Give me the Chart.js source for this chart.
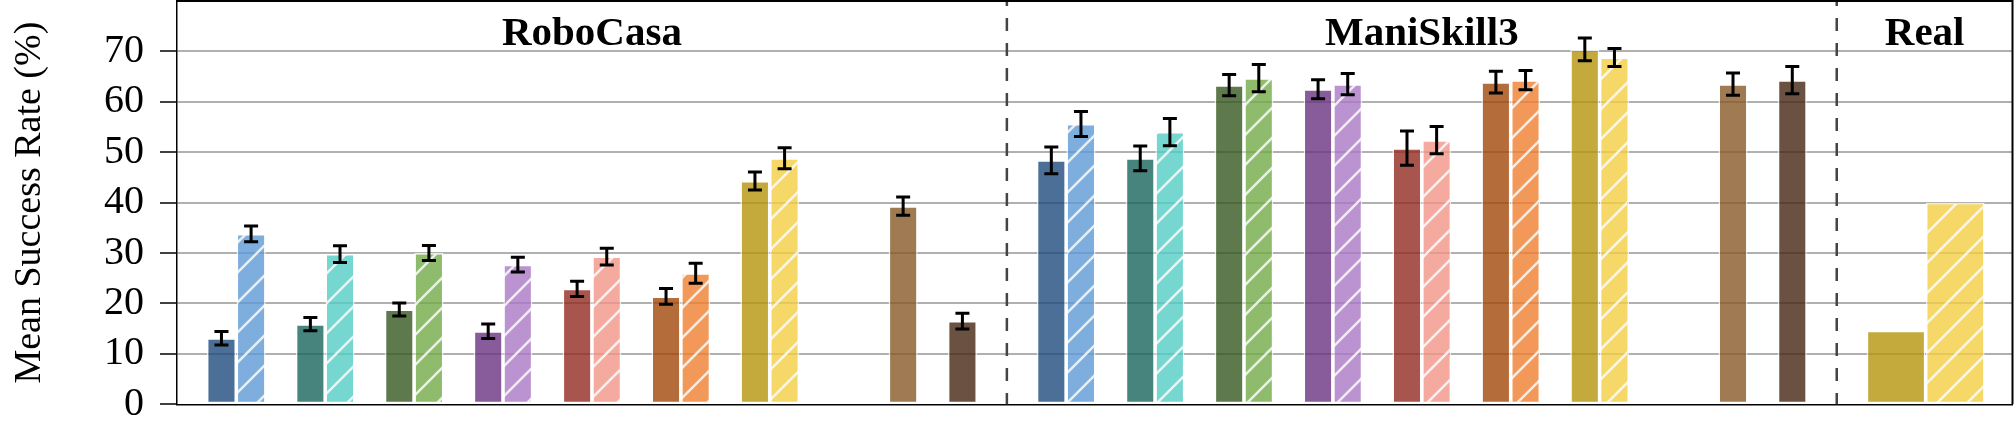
<!DOCTYPE html>
<html><head><meta charset="utf-8">
<script src="https://cdn.jsdelivr.net/npm/chart.js@4.4.1/dist/chart.umd.min.js"></script>
<style>html,body{margin:0;padding:0;background:#fff;}canvas{display:block;}</style>
</head><body>
<canvas id="c" width="2016" height="432"></canvas>
<script>
// ---------------- data ----------------
const sectionNames = ['RoboCasa', 'ManiSkill3', 'Real'];
const roboBase = [13.1, 15.9, 18.8, 14.5, 22.9, 21.4, 44.3];
const roboBaseErr = [1.35, 1.3, 1.3, 1.45, 1.5, 1.55, 1.8];
const roboPlus = [33.8, 29.8, 30.0, 27.7, 29.3, 26.0, 48.8];
const roboPlusErr = [1.55, 1.65, 1.5, 1.45, 1.65, 2.0, 2.1];
const roboSingle = [39.3, 16.5];
const roboSingleErr = [1.8, 1.55];
const maniBase = [48.4, 48.8, 63.3, 62.5, 50.8, 63.9, 70.4];
const maniBaseErr = [2.65, 2.45, 2.1, 1.9, 3.4, 2.15, 2.25];
const maniPlus = [55.6, 54.0, 64.7, 63.5, 52.4, 64.3, 68.8];
const maniPlusErr = [2.5, 2.7, 2.7, 2.1, 2.7, 1.9, 1.8];
const maniSingle = [63.5, 64.3];
const maniSingleErr = [2.2, 2.7];
const realValues = [14.6, 40.0];
const yTickValues = [0, 10, 20, 30, 40, 50, 60, 70];
const yTitle = 'Mean Success Rate (%)';

// ---------------- styles ----------------
const darkColors = ['#4b6f96', '#48847e', '#5e7a4c', '#885b9a', '#a8554d', '#b56c3b', '#c4aa3c'];
const lightColors = ['#7daedd', '#76d7d1', '#8fbc6c', '#bb93d0', '#f5aaa0', '#f2995a', '#f5d867'];
const singleColors = ['#a07a53', '#6a5141'];
const ALPHA = 0.8;

// ---------------- layout (slot units on linear x axis) ----------------
const sectionSlots = [28, 28, 5.93];
const sectionStart = [0, 28, 56];
const xMax = sectionStart[2] + sectionSlots[2];
const pairX = (s, m, k) => sectionStart[s] + 1 + 3 * m + k + 0.5;
const singleX = (s, j) => sectionStart[s] + 24 + 2 * j + 0.5;
const realX = j => sectionStart[2] + 2 + 2 * j;

function toRgba(hex, a) {
  const n = parseInt(hex.slice(1), 16);
  const obs = [(n >> 16) & 255, (n >> 8) & 255, n & 255];
  const c = obs.map(v => Math.max(0, Math.min(255, Math.round((v - 255 * (1 - a)) / a))));
  return `rgba(${c[0]},${c[1]},${c[2]},${a})`;
}
function hatch(hex) {
  const T = 30;
  const cv = document.createElement('canvas');
  cv.width = T; cv.height = T;
  const g = cv.getContext('2d');
  g.fillStyle = toRgba(hex, ALPHA);
  g.fillRect(0, 0, T, T);
  g.strokeStyle = 'rgba(255,255,255,0.8)';
  g.lineWidth = 2.5;
  g.beginPath();
  g.moveTo(-3, T + 3); g.lineTo(T + 3, -3);
  g.moveTo(-3, 3); g.lineTo(3, -3);
  g.moveTo(T - 3, T + 3); g.lineTo(T + 3, T - 3);
  g.stroke();
  return g.createPattern(cv, 'repeat');
}

const pts = (vals, fx) => vals.map((v, i) => ({ x: fx(i), y: v }));
const baseData = pts(roboBase, i => pairX(0, i, 0)).concat(pts(maniBase, i => pairX(1, i, 0)));
const plusData = pts(roboPlus, i => pairX(0, i, 1)).concat(pts(maniPlus, i => pairX(1, i, 1)));
const singleData = pts(roboSingle, i => singleX(0, i)).concat(pts(maniSingle, i => singleX(1, i)));
const realData = pts(realValues, realX);

const common = {
  grouped: false, categoryPercentage: 1, barPercentage: 0.98,
  borderWidth: 1.5, borderColor: 'rgba(255,255,255,0.75)', borderSkipped: false
};
const datasets = [
  Object.assign({ label: 'base', data: baseData, errors: roboBaseErr.concat(maniBaseErr),
    backgroundColor: darkColors.concat(darkColors).map(c => toRgba(c, ALPHA)) }, common),
  Object.assign({ label: 'plus', data: plusData, errors: roboPlusErr.concat(maniPlusErr),
    backgroundColor: lightColors.concat(lightColors).map(c => hatch(c)) }, common),
  Object.assign({ label: 'single', data: singleData, errors: roboSingleErr.concat(maniSingleErr),
    backgroundColor: singleColors.concat(singleColors).map(c => toRgba(c, ALPHA)) }, common),
  Object.assign({}, common, { label: 'real', data: realData, barPercentage: 1.98,
    backgroundColor: [toRgba(darkColors[6], ALPHA), hatch(lightColors[6])] })
];

const decor = {
  id: 'decor',
  beforeDatasetsDraw(chart) {
    const { ctx, chartArea: a, scales: { x } } = chart;
    ctx.save();
    ctx.strokeStyle = '#444';
    ctx.lineWidth = 2.5;
    ctx.setLineDash([13, 12]);
    ctx.lineDashOffset = 8;
    [sectionStart[1], sectionStart[2]].forEach(v => {
      const px = x.getPixelForValue(v);
      ctx.beginPath(); ctx.moveTo(px, a.top); ctx.lineTo(px, a.bottom); ctx.stroke();
    });
    ctx.restore();
    ctx.save();
    ctx.fillStyle = '#000';
    ctx.font = 'bold 41px "Liberation Serif"';
    ctx.textAlign = 'center';
    ctx.textBaseline = 'alphabetic';
    sectionNames.forEach((n, i) => {
      const c = x.getPixelForValue(sectionStart[i] + sectionSlots[i] / 2);
      ctx.fillText(n, c, a.top + 44);
    });
    ctx.restore();
  },
  afterDatasetsDraw(chart) {
    const { ctx, chartArea: a, scales: { y } } = chart;
    ctx.save();
    ctx.strokeStyle = '#000';
    ctx.lineWidth = 3;
    chart.data.datasets.forEach((ds, di) => {
      if (!ds.errors) return;
      const meta = chart.getDatasetMeta(di);
      meta.data.forEach((bar, i) => {
        const v = ds.data[i].y, e = ds.errors[i];
        const bx = bar.x;
        const y1 = y.getPixelForValue(v + e), y2 = y.getPixelForValue(v - e);
        ctx.beginPath();
        ctx.moveTo(bx, y1); ctx.lineTo(bx, y2);
        ctx.moveTo(bx - 7, y1); ctx.lineTo(bx + 7, y1);
        ctx.moveTo(bx - 7, y2); ctx.lineTo(bx + 7, y2);
        ctx.stroke();
      });
    });
    ctx.restore();
    ctx.save();
    ctx.strokeStyle = '#000';
    ctx.lineWidth = 2;
    ctx.beginPath();
    ctx.moveTo(a.left, a.top); ctx.lineTo(a.right, a.top); ctx.lineTo(a.right, a.bottom);
    ctx.stroke();
    ctx.restore();
  }
};

new Chart(document.getElementById('c'), {
  type: 'bar',
  data: { datasets },
  plugins: [decor],
  options: {
    responsive: false, animation: false, devicePixelRatio: 1,
    layout: { padding: { left: 0, right: 3.5, top: 1, bottom: 27.7 } },
    plugins: { legend: { display: false }, tooltip: { enabled: false } },
    scales: {
      x: {
        type: 'linear', min: 0, max: xMax, offset: false,
        afterFit: s => { s.paddingLeft = 0; s.paddingRight = 0; },
        ticks: { display: false, stepSize: 1 },
        grid: { display: false, drawTicks: false },
        border: { display: true, color: '#000', width: 1.5 }
      },
      y: {
        min: 0, max: 80,
        afterFit: s => { s.width = 177; s.paddingTop = 0; s.paddingBottom = 0; },
        afterBuildTicks: s => { s.ticks = yTickValues.concat([80]).map(v => ({ value: v })); },
        ticks: {
          autoSkip: false,
          padding: 16, color: '#000',
          font: { family: 'Liberation Serif', size: 40 },
          callback: v => (yTickValues.includes(v) ? String(v) : '')
        },
        grid: {
          color: c => (c.tick && (c.tick.value === 0 || c.tick.value === 80)) ? 'rgba(0,0,0,0)' : '#b0b0b0',
          lineWidth: 2,
          tickLength: 17,
          tickWidth: 1.5,
          tickColor: c => (c.tick && c.tick.value === 80) ? 'rgba(0,0,0,0)' : '#000'
        },
        border: { display: true, color: '#000', width: 1.5 },
        title: {
          display: true, text: yTitle, color: '#000',
          font: { family: 'Liberation Serif', size: 38 },
          padding: { top: 7, bottom: 0 }
        }
      }
    }
  }
});
</script>
</body></html>
